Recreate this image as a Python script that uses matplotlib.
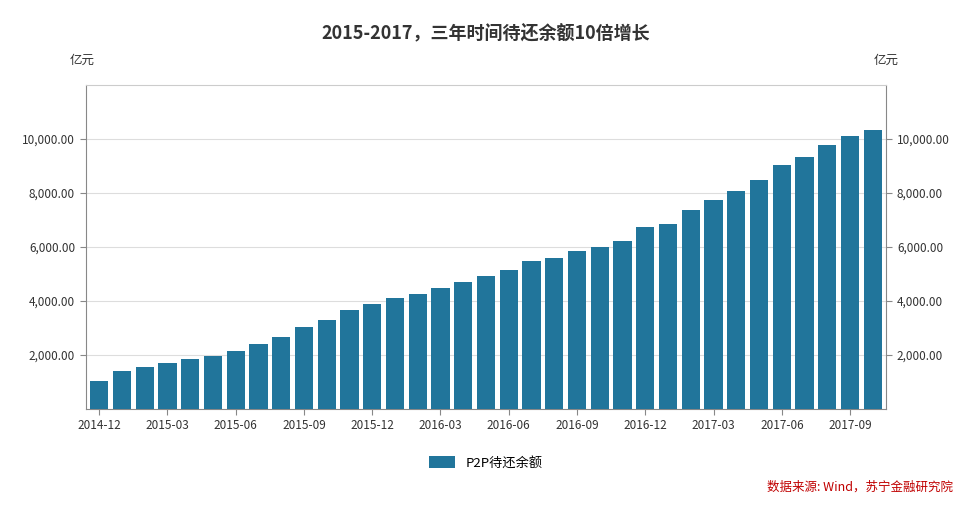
import matplotlib
matplotlib.use("Agg")
import matplotlib.pyplot as plt
import numpy as np

plt.rcParams['font.family'] = ['Noto Sans CJK SC', 'DejaVu Sans']

months = []
y, m = 2014, 12
for i in range(35):
    months.append(f"{y}-{m:02d}")
    m += 1
    if m > 12:
        m = 1; y += 1
values = [1030, 1400, 1550, 1700, 1850, 1960, 2140, 2400, 2660, 3030, 3280, 3650,
          3870, 4100, 4240, 4460, 4690, 4910, 5130, 5460, 5580, 5830, 5980, 6200,
          6750, 6830, 7380, 7750, 8080, 8490, 9040, 9330, 9780, 10110, 10330]
yticks = [2000, 4000, 6000, 8000, 10000]

fig = plt.figure(figsize=(9.72, 5.08), dpi=100)
ax = fig.add_axes([0.088, 0.195, 0.824, 0.638])
x = np.arange(len(values))
ax.bar(x, values, width=0.8, color='#21759b', zorder=3, label='P2P待还余额')
ax.set_xlim(-0.6, len(values) - 0.4)
ax.set_ylim(0, 12000)
ax.set_yticks(yticks)
ax.set_yticklabels([f"{v:,.2f}" for v in yticks], fontsize=8.5, color='#333333')
ax.set_xticks(x[::3])
ax.set_xticklabels(months[::3], fontsize=8.5, color='#333333')
ax.grid(axis='y', color='#dddddd', lw=0.8, zorder=0)
for s in ax.spines.values():
    s.set_color('#888888')
ax.spines['top'].set_color('#cccccc')
ax.tick_params(length=4, color='#888888')
ax2 = ax.twinx()
ax2.set_ylim(0, 12000)
ax2.set_yticks(yticks)
ax2.set_yticklabels([f"{v:,.2f}" for v in yticks], fontsize=8.5, color='#333333')
ax2.tick_params(length=4, color='#888888')
for s in ax2.spines.values():
    s.set_visible(False)

fig.text(0.5, 0.935, '2015-2017，三年时间待还余额10倍增长', ha='center', va='center',
         fontsize=13, fontweight='bold', color='#333333')
fig.text(0.085, 0.875, '亿元', ha='center', fontsize=9, color='#333333')
fig.text(0.912, 0.875, '亿元', ha='center', fontsize=9, color='#333333')
ax.legend(loc='center', bbox_to_anchor=(0.5, -0.165), frameon=False, fontsize=9.5,
          handlelength=2, handleheight=1.1)
fig.text(0.98, 0.035, '数据来源: Wind，苏宁金融研究院', ha='right', fontsize=9,
         color='#c00000', style='italic')
fig.savefig('out.png', dpi=100)
